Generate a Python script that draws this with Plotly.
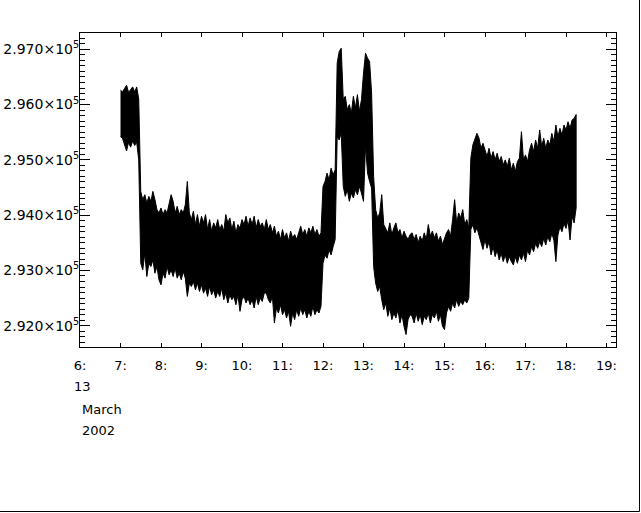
import pandas as pd
import plotly.graph_objects as go

# ---- data ----
series_start = "2002-03-13 07:00"
sample_step = "3min"

upper = [
    296260, 296230, 296290, 296350, 296220, 296280, 296320, 296230, 296320, 296100,
    294430, 294280, 294370, 294220, 294340, 294250, 294430, 294280, 294100, 294040,
    294130, 294010, 294100, 294040, 294220, 294370, 294250, 294040, 294160, 294010,
    294100, 294040, 294190, 294610, 294040,
    293920, 294070, 293830, 294010, 293800, 293980, 293860, 294010, 293740, 293920,
    293710, 293860, 293770, 293920, 293740, 293830, 293710, 294010, 293860, 293950,
    293740, 293890, 293680, 293830, 293770, 293920, 293830, 293980, 293800, 293950,
    293830, 293980, 293770, 293920, 293800, 293860, 293740,
    293920, 293740, 293830, 293680, 293800, 293620, 293710, 293560, 293740, 293590,
    293680, 293530, 293710, 293590, 293650, 293560, 293680, 293800, 293650, 293740,
    293620, 293770, 293680, 293800, 293650, 293740, 293620, 293680,
    294520, 294610, 294760, 294640, 294850, 294730, 294820,
    296750, 296960, 297020, 296090, 296150, 295910, 296000, 295850, 296150, 295940,
    296180, 295880, 296090, 296570, 296930, 296840, 296780, 296210, 294700,
    294100, 293950, 294040, 294370, 293830, 293740, 293680, 293860, 293650, 293770,
    293860, 293680, 293740, 293590, 293710, 293620, 293560, 293650,
    293680, 293560, 293650, 293500, 293620, 293530, 293680, 293560, 293830, 293620,
    293710, 293590, 293680, 293530, 293620, 293470, 293590, 293680, 293740, 293620,
    293920, 294280, 293860, 294040, 293950, 294100, 293830, 293920, 293770,
    295030, 295270, 295360, 295480, 295400, 295210, 295300,
    295180, 295060, 295210, 295030, 295150, 295000, 295120, 294970, 295060, 294910,
    295000, 294880, 295030, 294820, 294940, 294790, 294970, 295030, 295510, 295000,
    295090, 294970, 295180, 295300, 295150, 295360, 295210, 295540, 295240, 295390,
    295210, 295360, 295270, 295480, 295330, 295630, 295420, 295570, 295450, 295630,
    295540, 295690, 295570, 295720, 295750, 295820,
]

lower = [
    295420, 295390, 295300, 295160, 295320, 295230, 295340, 295260, 295320, 295000,
    293130, 293010, 293310, 292890, 293130, 293070, 293190, 292950, 293070, 292830,
    292740, 292950, 292860, 293070, 292920, 293010, 292890, 293040, 292860, 292950,
    292830, 292980, 292860, 292530, 292770,
    292710, 292800, 292650, 292770, 292620, 292740, 292590, 292680, 292530, 292710,
    292560, 292650, 292500, 292620, 292530, 292680, 292470, 292590, 292410, 292560,
    292470, 292530, 292380, 292560, 292260, 292470, 292530, 292410, 292500, 292380,
    292470, 292320, 292530, 292380, 292500, 292440, 292590,
    292590, 292470, 292410, 292530, 292050, 292320, 292230, 292380, 292200, 292290,
    292140, 292260, 291990, 292230, 292110, 292290, 292170, 292320, 292200, 292290,
    292140, 292260, 292170, 292350, 292200, 292290, 292230, 292350,
    293130, 293280, 293220, 293370, 293280, 293430, 293560,
    295420, 295360, 295490, 294520, 294340, 294460, 294250, 294400, 294310, 294460,
    294370, 294520, 294400, 294250, 295270, 294760, 294610, 294490, 293070,
    292770, 292620, 292710, 292470, 292290, 292410, 292170, 292320, 292110, 292230,
    292140, 292290, 292050, 292200, 291990, 291840, 292110, 292200,
    292170, 292050, 292230, 292080, 292200, 292020, 292170, 292110, 292230, 292050,
    292200, 292140, 292260, 292080, 292200, 291990, 291930, 292230, 292350, 292260,
    292410, 292320, 292470, 292350, 292440, 292380, 292470, 292410, 292500,
    293740, 293830, 293680, 293770, 293620, 293500, 293380,
    293560, 293400, 293520, 293280, 293430, 293250, 293370, 293190, 293310, 293160,
    293280, 293130, 293250, 293160, 293100, 293250, 293130, 293280, 293190, 293310,
    293160, 293370, 293280, 293430, 293340, 293490, 293400, 293520, 293430, 293580,
    293460, 293610, 293520, 293670, 293550, 293160, 293640, 293790, 293700, 293850,
    293760, 293910, 293550, 293980, 293860, 294130,
]

y_tick_values = [292000, 293000, 294000, 295000, 296000, 297000]
y_tick_labels = ["2.920×10<sup>5</sup>", "2.930×10<sup>5</sup>", "2.940×10<sup>5</sup>",
                 "2.950×10<sup>5</sup>", "2.960×10<sup>5</sup>", "2.970×10<sup>5</sup>"]
x_tick_hours = [6, 7, 8, 9, 10, 11, 12, 13, 14, 15, 16, 17, 18, 19]
x_tick_labels = ["6:", "7:", "8:", "9:", "10:", "11:", "12:", "13:", "14:", "15:",
                 "16:", "17:", "18:", "19:"]
date_lines = ["13", "March", "2002"]

# ---- figure ----
times = pd.date_range(series_start, periods=len(upper), freq=sample_step)
day = pd.Timestamp("2002-03-13")
x_tick_values = [day + pd.Timedelta(hours=h) for h in x_tick_hours]

x_poly = list(times) + list(times[::-1])
y_poly = list(upper) + list(lower[::-1])

FONT = "DejaVu Sans"
fig = go.Figure()
fig.add_trace(go.Scatter(
    x=x_poly, y=y_poly, mode="lines", fill="toself",
    fillcolor="black", line=dict(color="black", width=1),
    hoverinfo="skip", showlegend=False,
))

W, H = 641, 513
L, R, T, B = 80, 25, 33, 166
pw, ph = W - L - R, H - T - B

fig.update_layout(
    width=W, height=H,
    margin=dict(l=L, r=R, t=T, b=B, pad=0, autoexpand=False),
    paper_bgcolor="white", plot_bgcolor="white",
    font=dict(family=FONT, size=13, color="black"),
    showlegend=False,
)
fig.update_xaxes(
    type="date",
    range=[day + pd.Timedelta(hours=6), day + pd.Timedelta(hours=6 + pw / 40.5)],
    tickmode="array", tickvals=x_tick_values, ticktext=x_tick_labels,
    ticks="inside", ticklen=4, tickwidth=1, tickcolor="black",
    showline=True, linecolor="black", linewidth=1, mirror="ticks",
    showgrid=False, zeroline=False, ticklabelstandoff=6,
    tickfont=dict(family=FONT, size=13, color="black"),
)
fig.update_yaxes(
    range=[291615, 297295],
    tickmode="array", tickvals=y_tick_values, ticktext=y_tick_labels,
    ticks="inside", ticklen=10, tickwidth=1, tickcolor="black",
    minor=dict(dtick=100, tick0=292000, ticks="inside", ticklen=5, tickwidth=1, tickcolor="black"),
    showline=True, linecolor="black", linewidth=1, mirror="ticks",
    showgrid=False, zeroline=False, ticklabelstandoff=-3,
    tickfont=dict(family=FONT, size=14, color="black"),
)

def px_x(x):
    return (x - L) / pw

def px_y(y):
    return (H - B - y) / ph

for text, xl, yc in zip(date_lines, [72, 80, 80], [386, 409, 430]):
    fig.add_annotation(text=text, xref="paper", yref="paper", x=px_x(xl), y=px_y(yc),
                       xanchor="left", yanchor="middle", showarrow=False,
                       font=dict(family=FONT, size=13, color="black"))

# window border lines (right and bottom)
fig.add_shape(type="line", xref="paper", yref="paper", x0=px_x(639.5), x1=px_x(639.5),
              y0=px_y(0), y1=px_y(511.5), line=dict(color="black", width=1))
fig.add_shape(type="line", xref="paper", yref="paper", x0=px_x(0), x1=px_x(639.5),
              y0=px_y(511.5), y1=px_y(511.5), line=dict(color="black", width=1))

fig.write_html("out.html", config={"displayModeBar": False},
               post_script="document.body.style.margin='0';")
